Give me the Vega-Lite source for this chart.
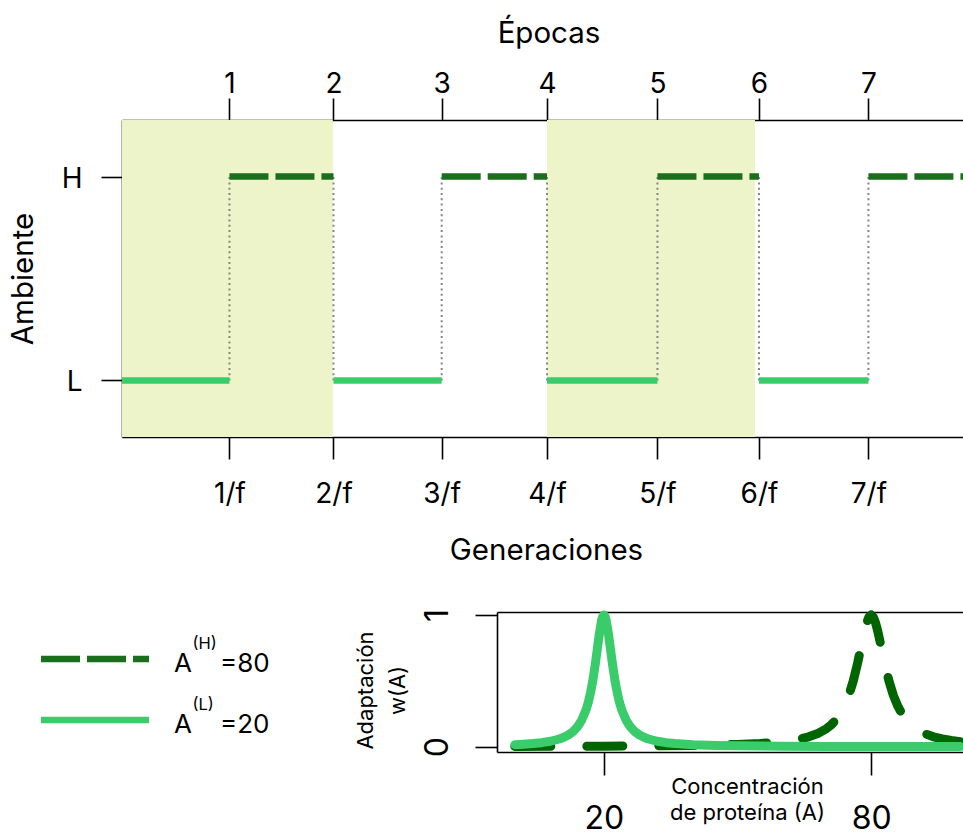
{
  "$schema": "https://vega.github.io/schema/vega-lite/v6.json",
  "autosize": {"type": "pad"},
  "padding": {"left": 8, "top": 18, "right": 0, "bottom": 0},
  "background": "white",
  "bounds": "flush",
  "spacing": 175,
  "datasets": {
    "epochs": [
      {"start": 0, "end": 1.009, "env": "L"},
      {"start": 1.009, "end": 1.986, "env": "H"},
      {"start": 1.986, "end": 3.002, "env": "L"},
      {"start": 3.002, "end": 3.991, "env": "H"},
      {"start": 3.991, "end": 5.028, "env": "L"},
      {"start": 5.028, "end": 5.981, "env": "H"},
      {"start": 5.981, "end": 7.009, "env": "L"},
      {"start": 7.009, "end": 8.038, "env": "H"}
    ],
    "shade": [
      {"start": 0, "end": 1.98},
      {"start": 3.991, "end": 5.944}
    ],
    "legend": [
      {"env": "H", "sup": "(H)", "rhs": "=80"},
      {"env": "L", "sup": "(L)", "rhs": "=20"}
    ],
    "fitness": [
      {"env": "H", "A": 0, "w": 0.0025},
      {"env": "H", "A": 10, "w": 0.0033},
      {"env": "H", "A": 20, "w": 0.0044},
      {"env": "H", "A": 30, "w": 0.0064},
      {"env": "H", "A": 40, "w": 0.0099},
      {"env": "H", "A": 50, "w": 0.0175},
      {"env": "H", "A": 55, "w": 0.025},
      {"env": "H", "A": 58, "w": 0.032},
      {"env": "H", "A": 60, "w": 0.0385},
      {"env": "H", "A": 62, "w": 0.047},
      {"env": "H", "A": 64, "w": 0.0588},
      {"env": "H", "A": 66, "w": 0.0755},
      {"env": "H", "A": 68, "w": 0.1},
      {"env": "H", "A": 70, "w": 0.1379},
      {"env": "H", "A": 71, "w": 0.165},
      {"env": "H", "A": 72, "w": 0.2},
      {"env": "H", "A": 73, "w": 0.246},
      {"env": "H", "A": 74, "w": 0.3077},
      {"env": "H", "A": 75, "w": 0.3902},
      {"env": "H", "A": 76, "w": 0.5},
      {"env": "H", "A": 77, "w": 0.64},
      {"env": "H", "A": 77.5, "w": 0.719},
      {"env": "H", "A": 78, "w": 0.8},
      {"env": "H", "A": 78.5, "w": 0.877},
      {"env": "H", "A": 79, "w": 0.9412},
      {"env": "H", "A": 79.5, "w": 0.985},
      {"env": "H", "A": 80, "w": 1},
      {"env": "H", "A": 80.5, "w": 0.985},
      {"env": "H", "A": 81, "w": 0.9412},
      {"env": "H", "A": 81.5, "w": 0.877},
      {"env": "H", "A": 82, "w": 0.8},
      {"env": "H", "A": 82.5, "w": 0.719},
      {"env": "H", "A": 83, "w": 0.64},
      {"env": "H", "A": 84, "w": 0.5},
      {"env": "H", "A": 85, "w": 0.3902},
      {"env": "H", "A": 86, "w": 0.3077},
      {"env": "H", "A": 87, "w": 0.246},
      {"env": "H", "A": 88, "w": 0.2},
      {"env": "H", "A": 89, "w": 0.165},
      {"env": "H", "A": 90, "w": 0.1379},
      {"env": "H", "A": 92, "w": 0.1},
      {"env": "H", "A": 94, "w": 0.0755},
      {"env": "H", "A": 96, "w": 0.0588},
      {"env": "H", "A": 98, "w": 0.047},
      {"env": "H", "A": 100, "w": 0.0385},
      {"env": "L", "A": 0, "w": 0.0154},
      {"env": "L", "A": 2, "w": 0.0189},
      {"env": "L", "A": 4, "w": 0.0238},
      {"env": "L", "A": 6, "w": 0.0309},
      {"env": "L", "A": 8, "w": 0.0416},
      {"env": "L", "A": 10, "w": 0.0588},
      {"env": "L", "A": 11, "w": 0.0716},
      {"env": "L", "A": 12, "w": 0.089},
      {"env": "L", "A": 13, "w": 0.1131},
      {"env": "L", "A": 14, "w": 0.148},
      {"env": "L", "A": 15, "w": 0.2},
      {"env": "L", "A": 16, "w": 0.281},
      {"env": "L", "A": 16.5, "w": 0.338},
      {"env": "L", "A": 17, "w": 0.41},
      {"env": "L", "A": 17.5, "w": 0.5},
      {"env": "L", "A": 18, "w": 0.61},
      {"env": "L", "A": 18.5, "w": 0.735},
      {"env": "L", "A": 19, "w": 0.862},
      {"env": "L", "A": 19.5, "w": 0.962},
      {"env": "L", "A": 19.75, "w": 0.99},
      {"env": "L", "A": 20, "w": 1},
      {"env": "L", "A": 20.25, "w": 0.99},
      {"env": "L", "A": 20.5, "w": 0.962},
      {"env": "L", "A": 21, "w": 0.862},
      {"env": "L", "A": 21.5, "w": 0.735},
      {"env": "L", "A": 22, "w": 0.61},
      {"env": "L", "A": 22.5, "w": 0.5},
      {"env": "L", "A": 23, "w": 0.41},
      {"env": "L", "A": 23.5, "w": 0.338},
      {"env": "L", "A": 24, "w": 0.281},
      {"env": "L", "A": 25, "w": 0.2},
      {"env": "L", "A": 26, "w": 0.148},
      {"env": "L", "A": 27, "w": 0.1131},
      {"env": "L", "A": 28, "w": 0.089},
      {"env": "L", "A": 29, "w": 0.0716},
      {"env": "L", "A": 30, "w": 0.0588},
      {"env": "L", "A": 32, "w": 0.0416},
      {"env": "L", "A": 34, "w": 0.0309},
      {"env": "L", "A": 36, "w": 0.0238},
      {"env": "L", "A": 40, "w": 0.0154},
      {"env": "L", "A": 45, "w": 0.0099},
      {"env": "L", "A": 50, "w": 0.0069},
      {"env": "L", "A": 60, "w": 0.0039},
      {"env": "L", "A": 70, "w": 0.0025},
      {"env": "L", "A": 80, "w": 0.0017},
      {"env": "L", "A": 90, "w": 0.0013},
      {"env": "L", "A": 100, "w": 0.001}
    ]
  },
  "vconcat": [
    {
      "width": 856,
      "height": 317,
      "resolve": {"axis": {"x": "independent"}},
      "layer": [
        {
          "data": {"name": "shade"},
          "mark": {"type": "rect", "color": "#eef4c9"},
          "encoding": {
            "x": {
              "field": "start", "type": "quantitative",
              "scale": {"domain": [0, 8.038], "nice": false, "zero": false},
              "axis": {
                "orient": "bottom",
                "values": [1.009, 1.986, 3.002, 3.991, 5.028, 5.981, 7.009],
                "labelExpr": "round(datum.value) + '/f'",
                "tickSize": 22, "labelFontSize": 28, "labelBaseline": "alphabetic", "labelAlign": "center", "labelPadding": 43.5,
                "title": "Generaciones", "titleFontSize": 29.5, "titleBaseline": "alphabetic", "titleAlign": "center", "titleX": 424, "titleY": 122
              }
            },
            "x2": {"field": "end"}
          }
        },
        {
          "data": {"name": "epochs"},
          "transform": [{"filter": "datum.start > 0"}],
          "mark": {"type": "rule", "color": "#858585", "strokeWidth": 2, "strokeDash": [2, 3.3]},
          "encoding": {
            "x": {
              "field": "start", "type": "quantitative",
              "axis": {
                "orient": "top",
                "values": [1.009, 1.986, 3.002, 3.991, 5.028, 5.981, 7.009],
                "labelExpr": "'' + round(datum.value)",
                "tickSize": 22, "labelFontSize": 28, "labelBaseline": "alphabetic", "labelAlign": "center", "labelPadding": 6,
                "title": "Épocas", "titleFontSize": 29.5, "titleBaseline": "alphabetic", "titleAlign": "center", "titleX": 426.5, "titleY": -78
              }
            },
            "y": {"datum": "L", "type": "ordinal"},
            "y2": {"datum": "H"}
          }
        },
        {
          "data": {"name": "epochs"},
          "mark": {"type": "rule", "strokeWidth": 6.5, "strokeCap": "butt"},
          "encoding": {
            "x": {"field": "start", "type": "quantitative", "axis": null},
            "x2": {"field": "end"},
            "y": {
              "field": "env", "type": "ordinal",
              "scale": {"type": "point", "domain": ["H", "L"], "padding": 0.277},
              "axis": {
                "labelFontSize": 28, "tickSize": 21, "labelPadding": 19, "labelBaseline": "alphabetic", "labelOffset": 10.5, "labelAlign": "right", "labelAngle": 0,
                "title": "Ambiente", "titleFontSize": 29.5, "titleAngle": 270, "titleBaseline": "alphabetic", "titleAlign": "center", "titleX": -90, "titleY": 158.5
              }
            },
            "color": {"field": "env", "type": "nominal", "scale": {"domain": ["H", "L"], "range": ["#1b6e1b", "#3acc6b"]}, "legend": null},
            "strokeDash": {"field": "env", "type": "nominal", "scale": {"domain": ["H", "L"], "range": [[39, 7], [1, 0]]}, "legend": null}
          }
        }
      ]
    },
    {
      "hconcat": [
        {
          "width": 340,
          "height": 155,
          "data": {"name": "legend"},
          "layer": [
            {
              "mark": {"type": "rule", "strokeWidth": 6.5, "strokeCap": "butt"},
              "encoding": {
                "x": {"datum": 0, "type": "quantitative", "scale": {"domain": [0.75, 3.898], "nice": false, "zero": false}, "axis": null},
                "x2": {"datum": 1},
                "y": {"field": "env", "type": "ordinal", "scale": {"type": "point", "domain": ["H", "L"], "padding": 0.77}, "axis": null},
                "color": {"field": "env", "type": "nominal", "scale": {"domain": ["H", "L"], "range": ["#1b6e1b", "#3acc6b"]}, "legend": null},
                "strokeDash": {"field": "env", "type": "nominal", "scale": {"domain": ["H", "L"], "range": [[40, 7], [1, 0]]}, "legend": null}
              }
            },
            {
              "mark": {"type": "text", "align": "left", "baseline": "alphabetic", "fontSize": 26, "dy": 13},
              "encoding": {
                "x": {"datum": 1.2315, "type": "quantitative"},
                "y": {"field": "env", "type": "ordinal"},
                "text": {"value": "A"}
              }
            },
            {
              "mark": {"type": "text", "align": "left", "baseline": "alphabetic", "fontSize": 16.5, "dx": 18.5, "dy": -10},
              "encoding": {
                "x": {"datum": 1.2315, "type": "quantitative"},
                "y": {"field": "env", "type": "ordinal"},
                "text": {"field": "sup"}
              }
            },
            {
              "mark": {"type": "text", "align": "left", "baseline": "alphabetic", "fontSize": 26, "dx": 46, "dy": 13},
              "encoding": {
                "x": {"datum": 1.2315, "type": "quantitative"},
                "y": {"field": "env", "type": "ordinal"},
                "text": {"field": "rhs"}
              }
            }
          ]
        },
        {
          "width": 481,
          "height": 140,
          "data": {"name": "fitness"},
          "resolve": {"axis": {"x": "independent"}},
          "layer": [
            {
              "transform": [{"filter": "datum.env == 'H'"}],
              "mark": {"type": "line", "color": "#006400", "strokeWidth": 9, "strokeDash": [36, 36], "strokeCap": "round", "strokeJoin": "round"},
              "encoding": {
                "x": {
                  "field": "A", "type": "quantitative",
                  "scale": {"domain": [-4, 104], "nice": false, "zero": false},
                  "axis": {
                    "orient": "bottom", "values": [20, 80], "format": "d", "tickSize": 23, "labelFontSize": 32, "labelBaseline": "alphabetic", "labelAlign": "center", "labelPadding": 53,
                    "title": ["Concentración", "de proteína (A)"], "titleFontSize": 22, "titleBaseline": "alphabetic", "titleAlign": "center", "titleX": 250, "titleY": 41, "titleLineHeight": 26
                  }
                },
                "y": {
                  "field": "w", "type": "quantitative",
                  "scale": {"domain": [-0.04, 1.023], "nice": false, "zero": false},
                  "axis": {
                    "values": [0, 1], "format": "d", "tickSize": 22, "labelFontSize": 32, "labelAngle": 270, "labelAlign": "center", "labelBaseline": "alphabetic", "labelPadding": 28,
                    "title": ["Adaptación", "w(A)"], "titleFontSize": 22, "titleAngle": 270, "titleBaseline": "alphabetic", "titleAlign": "center", "titleX": -125, "titleY": 78, "titleLineHeight": 32
                  }
                }
              }
            },
            {
              "transform": [{"filter": "datum.env == 'L'"}],
              "mark": {"type": "line", "color": "#3acc6b", "strokeWidth": 9, "strokeCap": "round", "strokeJoin": "round"},
              "encoding": {
                "x": {
                  "field": "A", "type": "quantitative",
                  "axis": {"orient": "top", "ticks": false, "labels": false, "title": null, "domain": true}
                },
                "y": {"field": "w", "type": "quantitative"}
              }
            }
          ]
        }
      ],
      "spacing": 35,
      "bounds": "flush"
    }
  ],
  "config": {
    "font": "Inter",
    "view": {"stroke": null},
    "axis": {
      "grid": false, "labelFont": "Inter", "titleFont": "Inter", "labelColor": "#000", "titleColor": "#000",
      "tickColor": "#000", "domainColor": "#000", "domainWidth": 1.6, "tickWidth": 1.6, "titleFontWeight": "normal",
      "labelFlush": false, "labelOverlap": false, "labelBound": false
    },
    "text": {"font": "Inter", "color": "#000"}
  }
}
